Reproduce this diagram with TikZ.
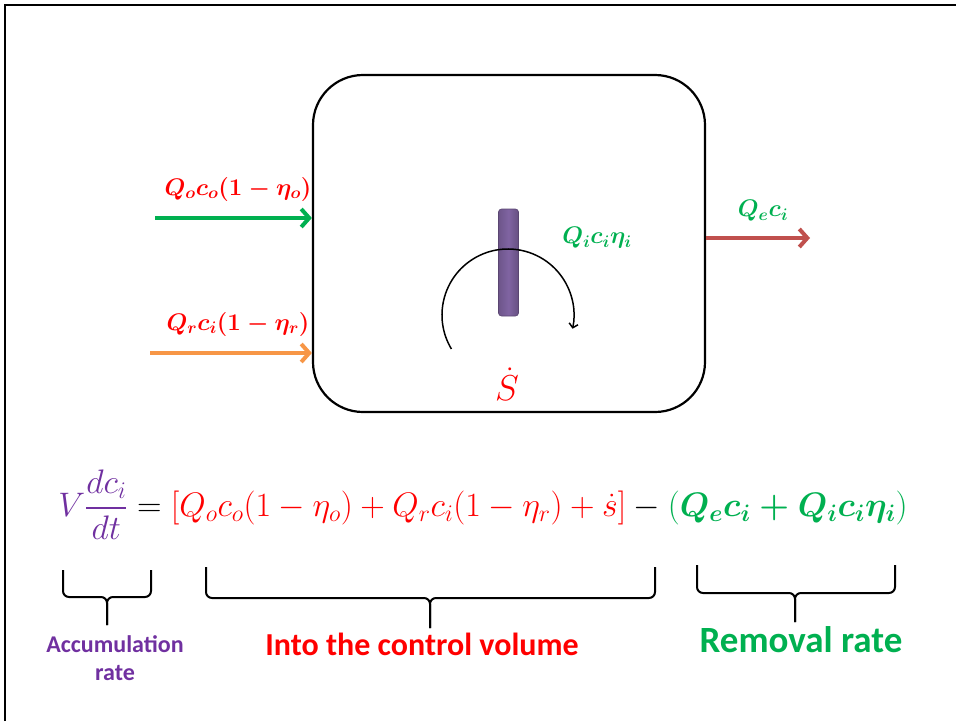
\RequirePackage{fix-cm}
\documentclass[tikz,border=0pt]{standalone}
\usepackage{amsmath,amssymb}
\usepackage{fontspec}
\setmainfont{Carlito}
\usepackage{xcolor}
\usetikzlibrary{arrows.meta, positioning}

\definecolor{eqred}{HTML}{FF0000}
\definecolor{eqgreen}{HTML}{00B050}
\definecolor{eqpurple}{HTML}{7030A0}
\definecolor{feedorange}{HTML}{F79646}
\definecolor{outred}{HTML}{C0504D}
\definecolor{barpurple}{HTML}{8064A2}

\begin{document}
\begin{tikzpicture}[
    x=1pt, y=-1pt,
    flowarrow/.style={line width=4pt, -{Straight Barb[length=8pt, width=18pt]}},
    bracecurve/.style={line width=2pt, rounded corners=6pt},
    sidelabel/.style={font=\fontsize{24}{27}\selectfont},
    caption/.style={font=\bfseries, align=center},
]
  \useasboundingbox (0,0) rectangle (956,721);
  \draw[line width=2.5pt] (5,721) -- (5,5) -- (956,5);

  % control volume
  \node[draw, line width=2.2pt, rounded corners=50pt, minimum width=392pt,
        minimum height=337pt] (tank) at (509,243.5) {};
  \node[draw=barpurple!70!black, line width=0.6pt, rounded corners=3pt,
        minimum width=20pt, minimum height=107pt, inner sep=0pt,
        left color=barpurple!85!black, right color=barpurple!80!black,
        middle color=barpurple] (mixer) at (508.5,262.5) {};
  \draw[line width=1.5pt, -{Straight Barb[length=4pt, width=9pt]}]
        (508,315) ++(211:66pt) arc[start angle=211, end angle=-12, radius=66pt];
  \node[text=eqred, font=\fontsize{36}{40}\selectfont] (source) at (507,384) {$\dot{S}$};

  % streams
  \coordinate (feedin) at (155,218);
  \coordinate (recyclein) at (150,353);
  \coordinate (effout) at (810,238);
  \draw[flowarrow, eqgreen] (feedin) -- (feedin -| tank.west);
  \draw[flowarrow, feedorange] (recyclein) -- (recyclein -| tank.west);
  \draw[flowarrow, outred] (effout -| tank.east) -- (effout);
  \node[sidelabel, text=eqred] (feedlbl) at (238,189)
        {$\boldsymbol{Q_oc_o(1-\eta_o)}$};
  \node[sidelabel, text=eqred] (recyclelbl) at (238,324)
        {$\boldsymbol{Q_rc_i(1-\eta_r)}$};
  \node[sidelabel, text=eqgreen] (efflbl) at (763,211) {$\boldsymbol{Q_ec_i}$};
  \node[sidelabel, text=eqgreen] (wastelbl) at (597,238) {$\boldsymbol{Q_ic_i\eta_i}$};

  % mass balance
  \node[font=\fontsize{34}{38}\selectfont] (balance) at (483,505)
        {$\displaystyle\color{eqpurple}V\frac{dc_i}{dt}\color{black}=
         \color{eqred}[Q_oc_o(1-\eta_o)+Q_rc_i(1-\eta_r)+\dot{s}]
         \color{black}-\color{eqgreen}(\boldsymbol{Q_ec_i+Q_ic_i\eta_i})$};

  \draw[bracecurve] (63,570) |- (107,597) -- (107,625);
  \draw[bracecurve] (151,570) |- (107,597) -- (107,625);
  \draw[bracecurve] (206,567) |- (430,598) -- (430,628);
  \draw[bracecurve] (655,567) |- (430,598) -- (430,628);
  \draw[bracecurve] (697,565) |- (795,593) -- (795,622);
  \draw[bracecurve] (895,565) |- (795,593) -- (795,622);

  \node[caption, text=eqpurple, font=\bfseries\fontsize{24}{28}\selectfont]
        (accum) at (115,658) {Accumulation\\rate};
  \node[caption, text=eqred, font=\bfseries\fontsize{32}{36}\selectfont]
        (inflow) at (422,644) {Into the control volume};
  \node[caption, text=eqgreen, font=\bfseries\fontsize{37}{40}\selectfont]
        (removal) at (801,640) {Removal rate};
\end{tikzpicture}
\end{document}
